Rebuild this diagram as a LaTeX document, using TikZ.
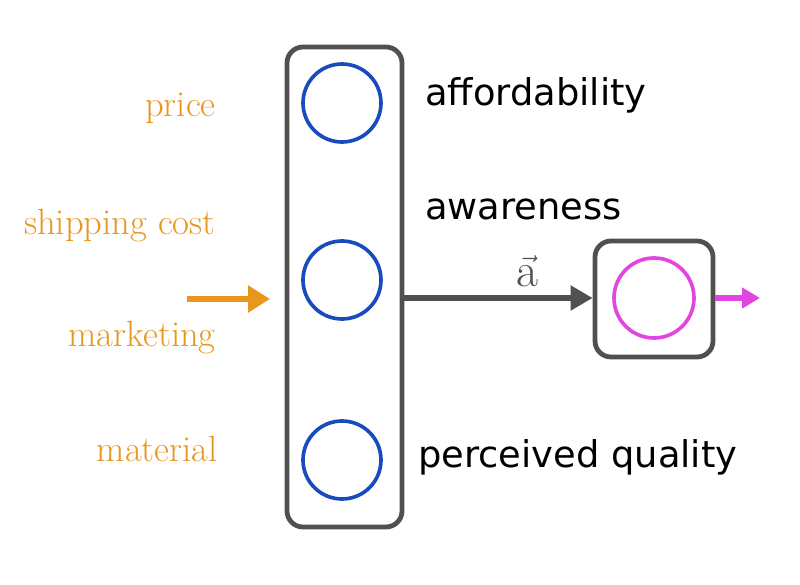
\documentclass[tikz,border=0pt]{standalone}
\usepackage{fontspec}
\newfontfamily\labelfont{DejaVu Sans}
\usetikzlibrary{arrows.meta}
\definecolor{boxgray}{RGB}{80,80,80}
\definecolor{unitblue}{RGB}{25,75,190}
\definecolor{inorange}{RGB}{232,150,30}
\definecolor{outpink}{RGB}{225,70,225}
\tikzset{
	feature/.style={anchor=base east,text=inorange,font=\fontsize{26}{30}\selectfont,inner sep=0pt},
	unitname/.style={anchor=base west,font=\labelfont\fontsize{26.2}{30}\selectfont,inner sep=0pt},
	unit/.style={circle,draw=unitblue,line width=2.6pt,minimum size=1.95cm,inner sep=0pt},
	layerbox/.style={draw=boxgray,line width=3.4pt,rounded corners=0.4cm}
}
\begin{document}
\begin{tikzpicture}
\useasboundingbox (0,0) rectangle (20,14.6);

\node[feature] (price) at (5.4,11.675) {price};
\node[feature] (ship) at (5.4,8.725) {shipping cost};
\node[feature] (mkt) at (5.4,5.925) {marketing};
\node[feature] (mat) at (5.45,3.05) {material};

\coordinate (in) at (4.675,7.125);
\coordinate (inend) at (6.75,7.125);
\draw[inorange,line width=4pt,-{Triangle[length=0.55cm,width=0.65cm]}] (in) -- (inend);

\draw[layerbox] (7.175,1.425) rectangle (10.05,13.425);
\node[unit] (u1) at (8.55,12.025) {};
\node[unit] (u2) at (8.55,7.6) {};
\node[unit] (u3) at (8.55,3.1) {};

\node[unitname] (afford) at (10.625,11.95) {affordability};
\node[unitname] (aware) at (10.625,9.1) {awareness};
\node[unitname] (qual) at (10.45,2.925) {perceived quality};

\node[layerbox,minimum width=2.95cm,minimum height=2.9cm] (outbox) at (16.35,7.125) {};
\node[circle,draw=outpink,line width=2.6pt,minimum size=2.0cm] (out) at (16.35,7.15) {};

\coordinate (act) at (10.05,7.15);
\draw[boxgray,line width=3.6pt,-{Triangle[length=0.55cm,width=0.6cm]}] (act) -- (outbox.west |- act)
	node[midway,above=0.1cm,xshift=0.75cm,text=boxgray,font=\fontsize{34}{38}\selectfont]{$\vec{\mathrm{a}}$};

\coordinate (yhat) at (19.0,7.15);
\draw[outpink,line width=3.6pt,-{Triangle[length=0.45cm,width=0.5cm]}] (outbox.east |- yhat) -- (yhat);

\end{tikzpicture}
\end{document}
